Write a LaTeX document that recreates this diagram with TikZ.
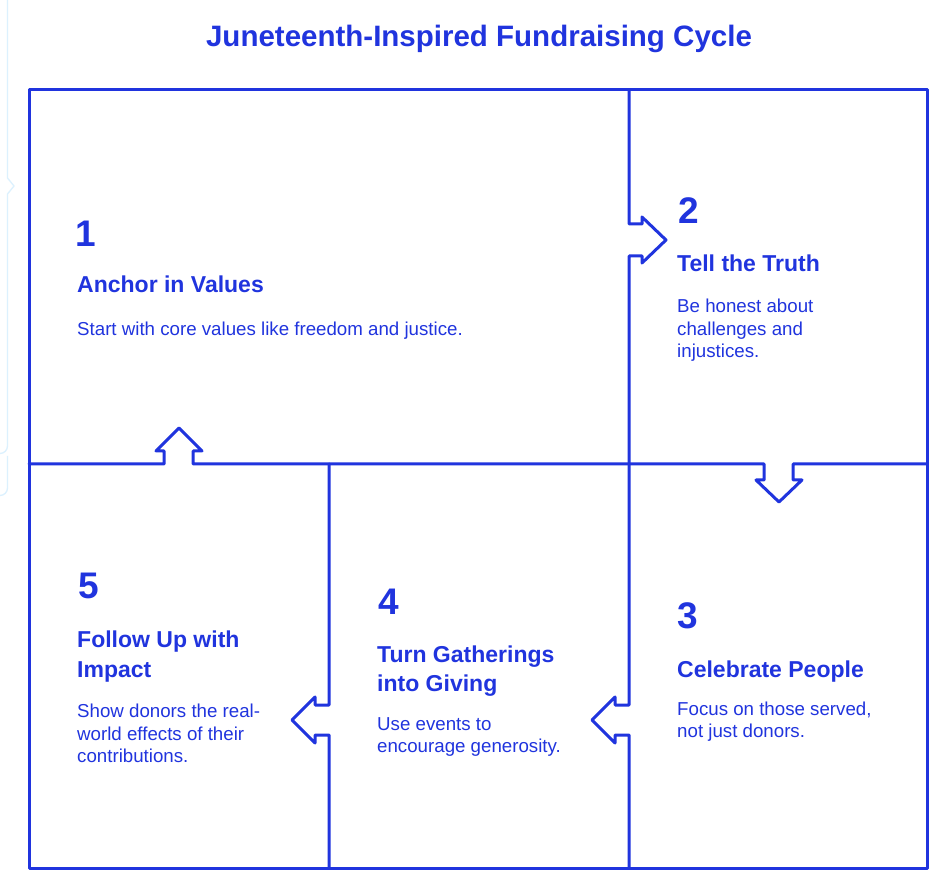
\documentclass[tikz,border=0pt]{standalone}
\usepackage{fontspec}
\setmainfont{Liberation Sans}
\usetikzlibrary{decorations.pathmorphing}
\definecolor{ink}{RGB}{32,52,222}
\definecolor{ghost}{RGB}{220,241,254}
\begin{document}
\begin{tikzpicture}[x=1pt,y=-1pt,
  frame/.style={draw=ink,line width=3pt,line join=round,line cap=round},
  txt/.style={inner sep=0pt,anchor=base west,text=ink},
  numtxt/.style={txt,font=\fontsize{37}{40}\selectfont\bfseries},
  headtxt/.style={txt,font=\fontsize{23}{30}\selectfont\bfseries},
  bodytxt/.style={txt,font=\fontsize{18.7}{22.5}\selectfont},
  titletxt/.style={inner sep=0pt,anchor=base,text=ink,font=\fontsize{29.5}{32}\selectfont\bfseries}]
\useasboundingbox[fill=white] (0,0) rectangle (951,890);

% faint background artefact at the left edge
\draw[ghost,line width=1.3pt] (7.5,0) -- (7.5,178) -- (14,186) -- (7.5,194) -- (7.5,446) arc[start angle=0,end angle=90,x radius=7.5pt,y radius=-7.5pt];
\draw[ghost,line width=1.3pt] (7.5,456) -- (7.5,488) arc[start angle=0,end angle=90,x radius=7.5pt,y radius=-7.5pt];

% title
\node[titletxt] (title) at (479,47) {Juneteenth-Inspired Fundraising Cycle};

% outer frame
\draw[frame] (29,90) rectangle (927,868);
% horizontal divider with arrows 5->1 (up) and 2->3 (down)
\draw[frame] (29,464) -- (164,464) -- (164,451) -- (156,451) -- (179,428) -- (202,451) -- (193,451) -- (193,464)
  -- (764,464) -- (764,480) -- (756,480) -- (779,502) -- (802,480) -- (793,480) -- (793,464) -- (927,464);
% long vertical divider with arrows 1->2 (right) and 3->4 (left)
\draw[frame] (629,90) -- (629,224) -- (642,224) -- (642,217) -- (666,240) -- (642,263) -- (642,256) -- (629,256)
  -- (629,705) -- (615,705) -- (615,697) -- (592,720) -- (615,743) -- (615,735) -- (629,735) -- (629,868);
% short vertical divider with arrow 4->5 (left)
\draw[frame] (329,464) -- (329,705) -- (315,705) -- (315,697) -- (292,720) -- (315,743) -- (315,735) -- (329,735) -- (329,868);

% panel 1
\node[numtxt] (n1) at (75,247) {1};
\node[headtxt] (h1) at (77,293) {Anchor in Values};
\node[bodytxt] (b1) at (77,336) {Start with core values like freedom and justice.};

% panel 2
\node[numtxt] (n2) at (678,224) {2};
\node[headtxt] (h2) at (677,272) {Tell the Truth};
\node[bodytxt] (b2a) at (677,313) {Be honest about};
\node[bodytxt] (b2b) at (677,336) {challenges and};
\node[bodytxt] (b2c) at (677,358) {injustices.};

% panel 3
\node[numtxt] (n3) at (677,628) {3};
\node[headtxt] (h3) at (677,677) {Celebrate People};
\node[bodytxt] (b3a) at (677,715) {Focus on those served,};
\node[bodytxt] (b3b) at (677,737) {not just donors.};

% panel 4
\node[numtxt] (n4) at (378,614) {4};
\node[headtxt] (h4a) at (377,662) {Turn Gatherings};
\node[headtxt] (h4b) at (377,691) {into Giving};
\node[bodytxt] (b4a) at (377,730) {Use events to};
\node[bodytxt] (b4b) at (377,752) {encourage generosity.};

% panel 5
\node[numtxt] (n5) at (78,598) {5};
\node[headtxt] (h5a) at (77,647) {Follow Up with};
\node[headtxt] (h5b) at (77,677) {Impact};
\node[bodytxt] (b5a) at (77,717) {Show donors the real-};
\node[bodytxt] (b5b) at (77,740) {world effects of their};
\node[bodytxt] (b5c) at (77,762) {contributions.};
\end{tikzpicture}
\end{document}
